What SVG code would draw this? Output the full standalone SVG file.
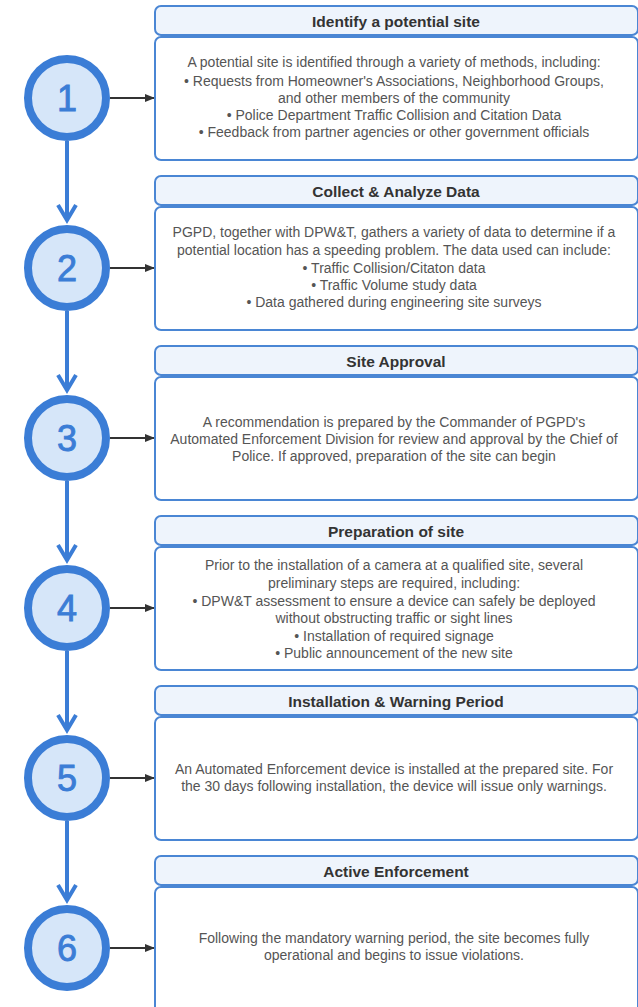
<svg xmlns="http://www.w3.org/2000/svg" width="638" height="1007" viewBox="0 0 638 1007">
<style>
.hdr{fill:#eef4fc;stroke:#4a86d4;stroke-width:2}
.body{fill:#ffffff;stroke:#4a86d4;stroke-width:2}
.ht{font-family:"Liberation Sans",Arial,sans-serif;font-weight:bold;font-size:15.5px;fill:#333333;text-anchor:middle}
.bt{font-family:"Liberation Sans",Arial,sans-serif;font-size:14px;fill:#555555;text-anchor:middle}
.circ{fill:#d6e6f9;stroke:#3b7dd6;stroke-width:8}
.num{font-family:"Liberation Sans",Arial,sans-serif;font-size:36px;fill:#3b7dd6;stroke:#3b7dd6;stroke-width:0.9;text-anchor:middle}
.vl{stroke:#3b7dd6;stroke-width:4;fill:none}
.vh{stroke:#3b7dd6;stroke-width:4;fill:none;stroke-linejoin:miter}
.hl{stroke:#333333;stroke-width:2}
</style>
<defs>
<marker id="ah" markerWidth="10" markerHeight="8" refX="9" refY="4" orient="auto" markerUnits="userSpaceOnUse" viewBox="0 0 10 8">
<path d="M0,0 L10,4 L0,8 Z" fill="#333333"/>
</marker>
</defs>
<g id="connectors">
<line class="hl" x1="110" y1="98" x2="154" y2="98" marker-end="url(#ah)"/>
<line class="hl" x1="110" y1="268" x2="154" y2="268" marker-end="url(#ah)"/>
<line class="hl" x1="110" y1="438" x2="154" y2="438" marker-end="url(#ah)"/>
<line class="hl" x1="110" y1="608" x2="154" y2="608" marker-end="url(#ah)"/>
<line class="hl" x1="110" y1="778" x2="154" y2="778" marker-end="url(#ah)"/>
<line class="hl" x1="110" y1="948" x2="154" y2="948" marker-end="url(#ah)"/>
<line class="vl" x1="67" y1="141" x2="67" y2="220"/><polyline class="vh" points="58,205 67,220 76,205"/>
<line class="vl" x1="67" y1="311" x2="67" y2="390"/><polyline class="vh" points="58,375 67,390 76,375"/>
<line class="vl" x1="67" y1="481" x2="67" y2="560"/><polyline class="vh" points="58,545 67,560 76,545"/>
<line class="vl" x1="67" y1="651" x2="67" y2="730"/><polyline class="vh" points="58,715 67,730 76,715"/>
<line class="vl" x1="67" y1="821" x2="67" y2="900"/><polyline class="vh" points="58,885 67,900 76,885"/>
</g>
<g id="step1">
<circle class="circ" cx="67" cy="98" r="39"/><text class="num" x="67" y="111">1</text>
<rect class="hdr" x="155" y="6" width="483" height="29" rx="6"/>
<text class="ht" x="396" y="26.5">Identify a potential site</text>
<rect class="body" x="155" y="37" width="483" height="123" rx="6"/>
<text class="bt" x="394" y="67">A potential site is identified through a variety of methods, including:</text>
<text class="bt" x="394" y="85.5">• Requests from Homeowner's Associations, Neighborhood Groups,</text>
<text class="bt" x="394" y="103">and other members of the community</text>
<text class="bt" x="394" y="120">• Police Department Traffic Collision and Citation Data</text>
<text class="bt" x="394" y="137">• Feedback from partner agencies or other government officials</text>
</g>
<g id="step2">
<circle class="circ" cx="67" cy="268" r="39"/><text class="num" x="67" y="281">2</text>
<rect class="hdr" x="155" y="176" width="483" height="29" rx="6"/>
<text class="ht" x="396" y="196.5">Collect &amp; Analyze Data</text>
<rect class="body" x="155" y="207" width="483" height="123" rx="6"/>
<text class="bt" x="394" y="237">PGPD, together with DPW&amp;T, gathers a variety of data to determine if a</text>
<text class="bt" x="394" y="255">potential location has a speeding problem. The data used can include:</text>
<text class="bt" x="394" y="273">• Traffic Collision/Citaton data</text>
<text class="bt" x="394" y="290">• Traffic Volume study data</text>
<text class="bt" x="394" y="307">• Data gathered during engineering site surveys</text>
</g>
<g id="step3">
<circle class="circ" cx="67" cy="438" r="39"/><text class="num" x="67" y="451">3</text>
<rect class="hdr" x="155" y="346" width="483" height="29" rx="6"/>
<text class="ht" x="396" y="366.5">Site Approval</text>
<rect class="body" x="155" y="377" width="483" height="123" rx="6"/>
<text class="bt" x="394" y="427">A recommendation is prepared by the Commander of PGPD's</text>
<text class="bt" x="394" y="444">Automated Enforcement Division for review and approval by the Chief of</text>
<text class="bt" x="394" y="461">Police. If approved, preparation of the site can begin</text>
</g>
<g id="step4">
<circle class="circ" cx="67" cy="608" r="39"/><text class="num" x="67" y="621">4</text>
<rect class="hdr" x="155" y="516" width="483" height="29" rx="6"/>
<text class="ht" x="396" y="536.5">Preparation of site</text>
<rect class="body" x="155" y="547" width="483" height="123" rx="6"/>
<text class="bt" x="394" y="570">Prior to the installation of a camera at a qualified site, several</text>
<text class="bt" x="394" y="588">preliminary steps are required, including:</text>
<text class="bt" x="394" y="606">• DPW&amp;T assessment to ensure a device can safely be deployed</text>
<text class="bt" x="394" y="623">without obstructing traffic or sight lines</text>
<text class="bt" x="394" y="641">• Installation of required signage</text>
<text class="bt" x="394" y="658">• Public announcement of the new site</text>
</g>
<g id="step5">
<circle class="circ" cx="67" cy="778" r="39"/><text class="num" x="67" y="791">5</text>
<rect class="hdr" x="155" y="686" width="483" height="29" rx="6"/>
<text class="ht" x="396" y="706.5">Installation &amp; Warning Period</text>
<rect class="body" x="155" y="717" width="483" height="123" rx="6"/>
<text class="bt" x="394" y="774">An Automated Enforcement device is installed at the prepared site. For</text>
<text class="bt" x="394" y="791">the 30 days following installation, the device will issue only warnings.</text>
</g>
<g id="step6">
<circle class="circ" cx="67" cy="948" r="39"/><text class="num" x="67" y="961">6</text>
<rect class="hdr" x="155" y="856" width="483" height="29" rx="6"/>
<text class="ht" x="396" y="876.5">Active Enforcement</text>
<rect class="body" x="155" y="887" width="483" height="140" rx="6"/>
<text class="bt" x="394" y="943">Following the mandatory warning period, the site becomes fully</text>
<text class="bt" x="394" y="960">operational and begins to issue violations.</text>
</g>
</svg>
